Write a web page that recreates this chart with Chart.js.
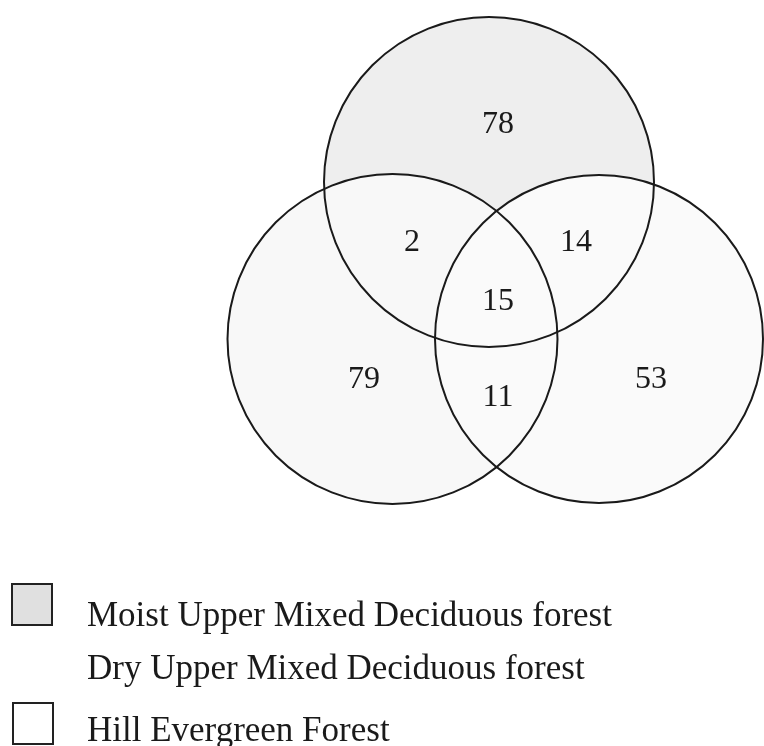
<!DOCTYPE html>
<html>
<head>
<meta charset="utf-8">
<script src="https://cdn.jsdelivr.net/npm/chart.js@4.4.1/dist/chart.umd.min.js"></script>
<style>
  html, body { margin: 0; padding: 0; background: #fff; }
  #wrap { width: 764px; height: 746px; }
</style>
</head>
<body>
<div id="wrap"><canvas id="vennChart"></canvas></div>
<script>
// forest types, one circle each (top, left, right)
var forests = ["Moist Upper Mixed Deciduous forest", "Dry Upper Mixed Deciduous forest", "Hill Evergreen Forest"];
// species counts in each region of the diagram
var regions = ["top only", "top+left", "top+right", "all three", "left only", "left+right", "right only"];
var counts = [78, 2, 14, 15, 79, 11, 53];

// layout of the diagram, in canvas units
var circleX = [489, 392.5, 599];
var circleY = [182, 339, 339];
var circleR = [165, 165, 164];
var countX = [498, 412, 576, 498, 364, 498, 651];
var countY = [125, 243, 243, 302, 380, 398, 380];

var circleFill = ['#eeeeee', '#f8f8f8', '#fafafa'];
var legendBox = [{ x: 12, y: 584, fill: '#e0e0e0' }, null, { x: 13, y: 703, fill: '#ffffff' }];
var legendBase = [626, 679, 741];

var centers = circleX.map(function (x, i) { return { x: x, y: circleY[i] }; });

function radiusPx(ctx) {
    var xs = ctx.chart.scales.x;
    return xs.getPixelForValue(circleR[ctx.dataIndex]) - xs.getPixelForValue(0);
}

var vennText = {
    id: 'vennText',
    afterDatasetsDraw: function (chart) {
        var c = chart.ctx;
        var xs = chart.scales.x, ys = chart.scales.y;
        c.save();
        c.fillStyle = '#1a1a1a';
        c.font = '32px "Liberation Serif", "Times New Roman", serif';
        c.textAlign = 'center';
        c.textBaseline = 'middle';
        counts.forEach(function (n, i) {
            c.fillText(String(n), xs.getPixelForValue(countX[i]), ys.getPixelForValue(countY[i]));
        });

        // legend
        c.font = '35px "Liberation Serif", "Times New Roman", serif';
        c.textAlign = 'left';
        c.textBaseline = 'alphabetic';
        forests.forEach(function (name, i) {
            var b = legendBox[i];
            if (b) {
                c.fillStyle = b.fill;
                c.fillRect(b.x, b.y, 40, 41);
                c.strokeStyle = '#222';
                c.lineWidth = 2;
                c.strokeRect(b.x, b.y, 40, 41);
            }
            c.fillStyle = '#1a1a1a';
            c.fillText(name, 87, legendBase[i]);
        });
        c.restore();
    }
};

var ctx_venn = document.getElementById("vennChart");
var vennChart = new Chart(ctx_venn, {
    type: 'scatter',
    data: {
        datasets: [{
            label: 'outline',
            data: centers,
            order: 0,
            clip: false,
            backgroundColor: 'rgba(0,0,0,0)',
            borderColor: '#1a1a1a',
            borderWidth: 2,
            pointRadius: radiusPx
        }, {
            label: 'fill',
            data: centers,
            order: 1,
            clip: false,
            backgroundColor: circleFill,
            borderWidth: 0,
            pointRadius: radiusPx
        }]
    },
    options: {
        animation: false,
        responsive: true,
        maintainAspectRatio: false,
        events: [],
        layout: { padding: 0 },
        scales: {
            x: { type: 'linear', min: 0, max: 764, display: false },
            y: { type: 'linear', min: 0, max: 746, reverse: true, display: false }
        },
        plugins: {
            legend: { display: false },
            tooltip: { enabled: false }
        }
    },
    plugins: [vennText]
});
</script>
</body>
</html>
